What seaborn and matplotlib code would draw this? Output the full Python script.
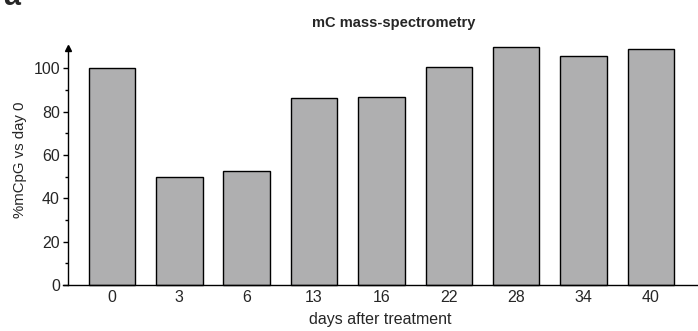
import matplotlib
matplotlib.use("Agg")
import matplotlib.pyplot as plt
import seaborn as sns
import pandas as pd
from matplotlib.ticker import MultipleLocator

days = ["0", "3", "6", "13", "16", "22", "28", "34", "40"]
values = [100.0, 49.7, 52.5, 86.3, 86.9, 100.7, 110.0, 105.7, 108.8]

sns.set_style("ticks")
plt.rcParams['font.family'] = ['Liberation Sans', 'DejaVu Sans']

df = pd.DataFrame({"day": days, "pct": values})

W, H = 698, 331
fig = plt.figure(figsize=(W / 100, H / 100), dpi=100)
ax_bottom = 285
ax_top = 48.2
ax = fig.add_axes([63 / W, 1 - ax_bottom / H, 1 - 63 / W, (ax_bottom - ax_top) / H])

sns.barplot(data=df, x="day", y="pct", order=days, color="#AFAFB0",
            saturation=1, width=0.69, edgecolor="black", linewidth=1.0, ax=ax)
for p in ax.patches:
    p.set_clip_on(False)

ax.set_xlim(-0.727, 8.70)
ax.set_ylim(0, 109.3)
ax.spines['left'].set_position(('data', -0.653))
ax.spines['right'].set_visible(False)
ax.spines['top'].set_visible(False)
for s in ['left', 'bottom']:
    ax.spines[s].set_linewidth(1.0)
    ax.spines[s].set_color('black')

ax.yaxis.set_major_locator(MultipleLocator(20))
ax.yaxis.set_minor_locator(MultipleLocator(10))
ax.tick_params(axis='y', which='major', length=3.4, width=1, labelsize=11.5, pad=2.4, color='black')
ax.tick_params(axis='y', which='minor', length=2.2, width=1, color='black')
ax.tick_params(axis='x', which='both', length=0, labelsize=11.5, pad=3.5)

# arrow at top of y axis
ax.plot([-0.653], [1], marker='^', color='black', markersize=4,
        transform=ax.get_xaxis_transform(), clip_on=False)

ax.set_xlabel("days after treatment", fontsize=11.5, labelpad=5)
ax.set_ylabel("%mCpG vs day 0", fontsize=10.8)
ax.yaxis.set_label_coords(-0.0567, 0.528)

fig.text(394 / W, 1 - 27 / H, "mC mass-spectrometry", fontsize=10.5,
         fontweight='bold', ha='center', va='baseline')

fig.text(0.004, 1 - 5 / H, "a", fontsize=22, fontweight='bold', va='baseline', ha='left')

fig.savefig("out.png", dpi=100)
